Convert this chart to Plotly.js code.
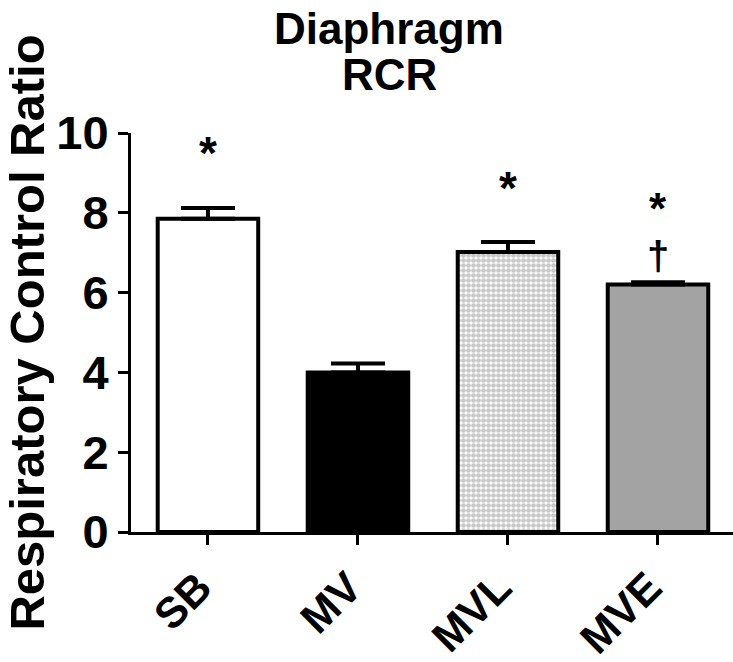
<!DOCTYPE html>
<html>
<head>
<meta charset="utf-8">
<script src="https://cdn.plot.ly/plotly-3.0.1.min.js"></script>
<style>
  html, body { margin: 0; padding: 0; background: #fff; }
  #chart { width: 733px; height: 662px; }
</style>
</head>
<body>
<div id="chart"></div>
<script>
var groups = ['SB', 'MV', 'MVL', 'MVE'];
var rcr = [7.85, 4.0, 7.02, 6.2];
var sem = [0.27, 0.22, 0.25, 0.06];
var fills = ['#ffffff', '#000000', '#c8c8c8', '#a3a3a3'];
var shapes = ['', '', '.', ''];

// significance marks: * vs MV, † vs MVL
var markGroups = ['SB', 'MVL', 'MVE', 'MVE'];
var markText = ['*', '*', '*', '†'];
var markY = [9.5, 8.62, 8.1, 6.92];
var markSize = [46, 46, 44, 40];

var titleLines = ['Diaphragm', 'RCR'];
var titleY = [1.262, 1.147];

var font = 'Arial, "Liberation Sans", sans-serif';

var bars = {
    x: groups,
    y: rcr,
    type: 'bar',
    width: 0.67,
    marker: {
        color: fills,
        line: { color: '#000', width: 4 },
        pattern: {
            shape: shapes,
            fgcolor: '#8a8a8a',
            bgcolor: '#ffffff',
            size: 5,
            solidity: 0.7,
            fillmode: 'replace'
        }
    },
    error_y: {
        type: 'data',
        symmetric: false,
        array: sem,
        arrayminus: [0, 0, 0, 0],
        color: '#000',
        thickness: 4,
        width: 27
    },
    hoverinfo: 'none'
};

var notes = markText.map(function (t, i) {
    return {
        x: markGroups[i], y: markY[i], text: '<b>' + t + '</b>',
        showarrow: false, xref: 'x', yref: 'y',
        font: { family: font, size: markSize[i], color: '#000' }
    };
});

// title lines placed as paper annotations
titleLines.forEach(function (t, i) {
    notes.push({
        x: 0.4286, y: titleY[i], xref: 'paper', yref: 'paper',
        xanchor: 'center', yanchor: 'middle',
        text: '<b>' + t + '</b>', showarrow: false,
        font: { family: font, size: 44, color: '#000' }
    });
});

var layout = {
    width: 733,
    height: 662,
    margin: { l: 131, r: 0, t: 133, b: 130 },
    paper_bgcolor: '#fff',
    plot_bgcolor: '#fff',
    showlegend: false,
    xaxis: {
        range: [-0.513, 3.5],
        tickvals: groups,
        ticktext: groups.map(function (g) { return '<b>' + g + '</b>'; }),
        showline: true, linecolor: '#000', linewidth: 3,
        ticks: 'outside', ticklen: 10, tickwidth: 3, tickcolor: '#000',
        tickangle: -45,
        ticklabelshift: -9,
        tickfont: { family: font, size: 43, color: '#000' },
        showgrid: false, zeroline: false
    },
    yaxis: {
        range: [0, 10],
        tickvals: [0, 2, 4, 6, 8, 10],
        ticktext: ['<b>0</b>', '<b>2</b>', '<b>4</b>', '<b>6</b>', '<b>8</b>', '<b>10</b>'],
        showline: true, linecolor: '#000', linewidth: 3,
        ticks: 'outside', ticklen: 10, tickwidth: 3, tickcolor: '#000',
        tickfont: { family: font, size: 47, color: '#000' },
        title: {
            text: '<b>Respiratory Control Ratio</b>',
            font: { family: font, size: 49, color: '#000' },
            standoff: 6
        },
        showgrid: false, zeroline: false
    },
    annotations: notes
};

Plotly.newPlot('chart', [bars], layout, { displayModeBar: false, staticPlot: true });
</script>
</body>
</html>
